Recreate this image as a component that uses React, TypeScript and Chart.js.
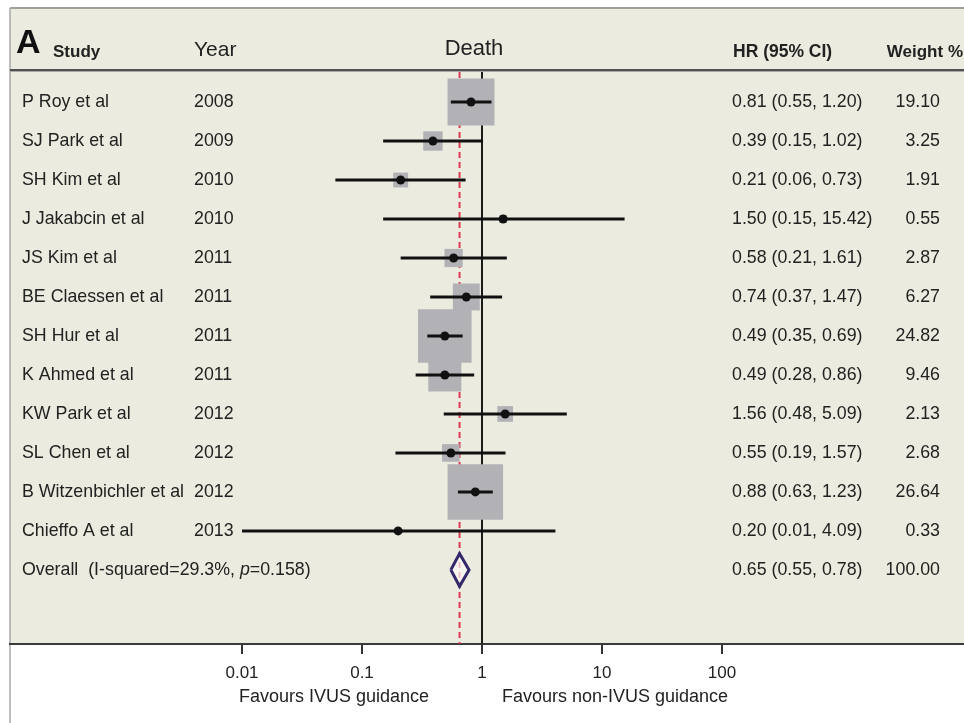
import React, { useEffect, useRef } from "react";
import { Chart, registerables } from "chart.js";

Chart.register(...registerables);

// ---------------- data ----------------
const studies = [
  "P Roy et al",
  "SJ Park et al",
  "SH Kim et al",
  "J Jakabcin et al",
  "JS Kim et al",
  "BE Claessen et al",
  "SH Hur et al",
  "K Ahmed et al",
  "KW Park et al",
  "SL Chen et al",
  "B Witzenbichler et al",
  "Chieffo A et al",
];
const years = ["2008", "2009", "2010", "2010", "2011", "2011", "2011", "2011", "2012", "2012", "2012", "2013"];
const hazardRatios = [0.81, 0.39, 0.21, 1.5, 0.58, 0.74, 0.49, 0.49, 1.56, 0.55, 0.88, 0.2];
const lowerCI = [0.55, 0.15, 0.06, 0.15, 0.21, 0.37, 0.35, 0.28, 0.48, 0.19, 0.63, 0.01];
const upperCI = [1.2, 1.02, 0.73, 15.42, 1.61, 1.47, 0.69, 0.86, 5.09, 1.57, 1.23, 4.09];
const weights = [19.1, 3.25, 1.91, 0.55, 2.87, 6.27, 24.82, 9.46, 2.13, 2.68, 26.64, 0.33];
const overallLabel = "Overall  (I-squared=29.3%, ";
const overallP = "=0.158)";
const overallHR = 0.65;
const overallLower = 0.55;
const overallUpper = 0.78;
const overallWeight = 100.0;
const tickValues = [0.01, 0.1, 1, 10, 100];
const tickLabels = ["0.01", "0.1", "1", "10", "100"];

// ---------------- styles / layout ----------------
const W = 964;
const H = 723;
const FONT = "'Liberation Sans', Arial, Helvetica, sans-serif";
const PANEL_BG = "#ecebdf";
const PANEL_LEFT = 10;
const PANEL_TOP = 8;
const HEADER_BOTTOM = 72;
const AXIS_HEIGHT = 79;
const Y_MIN = -0.77;
const Y_MAX = 13.9;
const X_MIN = 1.166e-4;
const X_MAX = 1.039e4;
const TEXT = "#222222";
const BOX_COLOR = "#b2b2b6";
const DIAMOND_HALF = 0.42;

const fmt = (v: number) => v.toFixed(2);

const tablePlugin = {
  id: "forestTable",
  beforeDraw(chart: any) {
    const { ctx, chartArea } = chart;
    ctx.save();
    ctx.fillStyle = "#ffffff";
    ctx.fillRect(0, 0, W, H);
    ctx.fillStyle = PANEL_BG;
    ctx.fillRect(PANEL_LEFT, PANEL_TOP, W - PANEL_LEFT, chartArea.bottom - PANEL_TOP);
    // top border
    ctx.strokeStyle = "#a0a09a";
    ctx.lineWidth = 2;
    ctx.beginPath();
    ctx.moveTo(PANEL_LEFT, PANEL_TOP);
    ctx.lineTo(W, PANEL_TOP);
    ctx.stroke();
    // left border
    ctx.strokeStyle = "#a8a8a8";
    ctx.lineWidth = 1.5;
    ctx.beginPath();
    ctx.moveTo(PANEL_LEFT, PANEL_TOP);
    ctx.lineTo(PANEL_LEFT, H);
    ctx.stroke();
    // header separator
    ctx.strokeStyle = "#505050";
    ctx.lineWidth = 2;
    ctx.beginPath();
    ctx.moveTo(PANEL_LEFT, HEADER_BOTTOM - 2);
    ctx.lineTo(W, HEADER_BOTTOM - 2);
    ctx.stroke();
    ctx.strokeStyle = "#a9a9a4";
    ctx.lineWidth = 1;
    ctx.beginPath();
    ctx.moveTo(PANEL_LEFT, HEADER_BOTTOM - 0.5);
    ctx.lineTo(W, HEADER_BOTTOM - 0.5);
    ctx.stroke();
    ctx.restore();
  },
  afterDraw(chart: any) {
    const { ctx } = chart;
    const y = chart.scales.y;
    ctx.save();
    ctx.fillStyle = "#111";
    ctx.textBaseline = "alphabetic";
    ctx.textAlign = "left";
    // header
    ctx.font = `bold 34px ${FONT}`;
    ctx.fillText("A", 16, 53);
    ctx.fillStyle = TEXT;
    ctx.font = `bold 17px ${FONT}`;
    ctx.fillText("Study", 53, 57);
    ctx.font = `21px ${FONT}`;
    ctx.fillText("Year", 194, 56);
    ctx.font = `22px ${FONT}`;
    ctx.textAlign = "center";
    ctx.fillText("Death", 474, 55);
    ctx.textAlign = "left";
    ctx.font = `bold 17.5px ${FONT}`;
    ctx.fillText("HR (95% CI)", 733, 57);
    ctx.font = `bold 17px ${FONT}`;
    ctx.textAlign = "right";
    ctx.fillText("Weight %", 963, 57);

    // rows
    ctx.font = `17.8px ${FONT}`;
    ctx.textBaseline = "middle";
    studies.forEach((s, i) => {
      const py = y.getPixelForValue(i);
      ctx.textAlign = "left";
      ctx.fillText(s, 22, py);
      ctx.fillText(years[i], 194, py);
      ctx.fillText(`${fmt(hazardRatios[i])} (${fmt(lowerCI[i])}, ${fmt(upperCI[i])})`, 732, py);
      ctx.textAlign = "right";
      ctx.fillText(fmt(weights[i]), 940, py);
    });
    const oy = y.getPixelForValue(studies.length);
    ctx.textAlign = "left";
    ctx.fillText(overallLabel, 22, oy);
    let ox = 22 + ctx.measureText(overallLabel).width;
    ctx.font = `italic 17.8px ${FONT}`;
    ctx.fillText("p", ox, oy);
    ox += ctx.measureText("p").width;
    ctx.font = `17.8px ${FONT}`;
    ctx.fillText(overallP, ox, oy);
    ctx.fillText(`${fmt(overallHR)} (${fmt(overallLower)}, ${fmt(overallUpper)})`, 732, oy);
    ctx.textAlign = "right";
    ctx.fillText(fmt(overallWeight), 940, oy);

    // axis captions
    ctx.font = `18px ${FONT}`;
    ctx.textAlign = "center";
    ctx.fillText("Favours IVUS guidance", 334, 697);
    ctx.fillText("Favours non-IVUS guidance", 615, 697);
    ctx.restore();
  },
};

export default function App() {
  const ref = useRef<HTMLCanvasElement | null>(null);

  useEffect(() => {
    if (!ref.current) return;
    const n = studies.length;
    const ciDatasets = studies.map((_, i) => ({
      type: "line" as const,
      data: [
        { x: lowerCI[i], y: i },
        { x: upperCI[i], y: i },
      ],
      borderColor: "#111",
      borderWidth: 3,
      pointRadius: 0,
      fill: false,
      tension: 0,
      order: 6,
    }));
    const chart = new Chart(ref.current, {
      type: "scatter",
      data: {
        datasets: [
          {
            type: "line",
            data: [
              { x: 1, y: Y_MIN },
              { x: 1, y: Y_MAX },
            ],
            borderColor: "#1a1a1a",
            borderWidth: 2,
            pointRadius: 0,
            fill: false,
            order: 10,
          },
          {
            type: "line",
            data: [
              { x: overallHR, y: Y_MIN },
              { x: overallHR, y: Y_MAX },
            ],
            borderColor: "#dc3a52",
            borderWidth: 2,
            borderDash: [6, 4],
            pointRadius: 0,
            fill: false,
            order: 9,
          },
          {
            type: "line",
            data: [
              { x: overallLower, y: n },
              { x: overallHR, y: n - DIAMOND_HALF },
              { x: overallUpper, y: n },
              { x: overallHR, y: n + DIAMOND_HALF },
              { x: overallLower, y: n },
            ],
            borderColor: "#33296a",
            borderWidth: 3,
            backgroundColor: "rgba(250,248,244,0.7)",
            fill: "shape",
            pointRadius: 0,
            tension: 0,
            order: 8,
          },
          {
            type: "scatter",
            data: hazardRatios.map((v, i) => ({ x: v, y: i })),
            pointStyle: "rect",
            pointRadius: (c: any) => 7.6 * Math.sqrt(weights[c.dataIndex] ?? 0),
            backgroundColor: BOX_COLOR,
            borderWidth: 0,
            order: 7,
          },
          ...ciDatasets,
          {
            type: "scatter",
            data: hazardRatios.map((v, i) => ({ x: v, y: i })),
            pointStyle: "circle",
            pointRadius: 4.5,
            backgroundColor: "#111",
            borderWidth: 0,
            order: 5,
          },
        ] as any,
      },
      options: {
        responsive: false,
        animation: false,
        events: [],
        layout: { autoPadding: false, padding: { left: PANEL_LEFT, right: 0, top: HEADER_BOTTOM, bottom: 0 } },
        plugins: { legend: { display: false }, tooltip: { enabled: false } },
        scales: {
          x: {
            type: "logarithmic",
            position: "bottom",
            min: X_MIN,
            max: X_MAX,
            afterBuildTicks: (s: any) => {
              s.ticks = tickValues.map((v) => ({ value: v }));
            },
            afterFit: (s: any) => {
              s.height = AXIS_HEIGHT;
            },
            ticks: {
              autoSkip: false,
              maxRotation: 0,
              padding: 9,
              color: TEXT,
              font: { family: FONT, size: 17 },
              callback: (v: any) => {
                const k = tickValues.indexOf(Number(v));
                return k >= 0 ? tickLabels[k] : "";
              },
            },
            grid: { display: true, drawOnChartArea: false, drawTicks: true, tickLength: 10, color: "#333", lineWidth: 2 },
            border: { display: true, color: "#3a3a3a", width: 2 },
          },
          y: {
            type: "linear",
            display: false,
            reverse: true,
            min: Y_MIN,
            max: Y_MAX,
          },
        },
      } as any,
      plugins: [tablePlugin],
    });
    return () => chart.destroy();
  }, []);

  return (
    <div style={{ position: "fixed", left: 0, top: 0, width: W, height: H, background: "#fff" }}>
      <canvas ref={ref} width={W} height={H} style={{ width: W, height: H, display: "block" }} />
    </div>
  );
}
